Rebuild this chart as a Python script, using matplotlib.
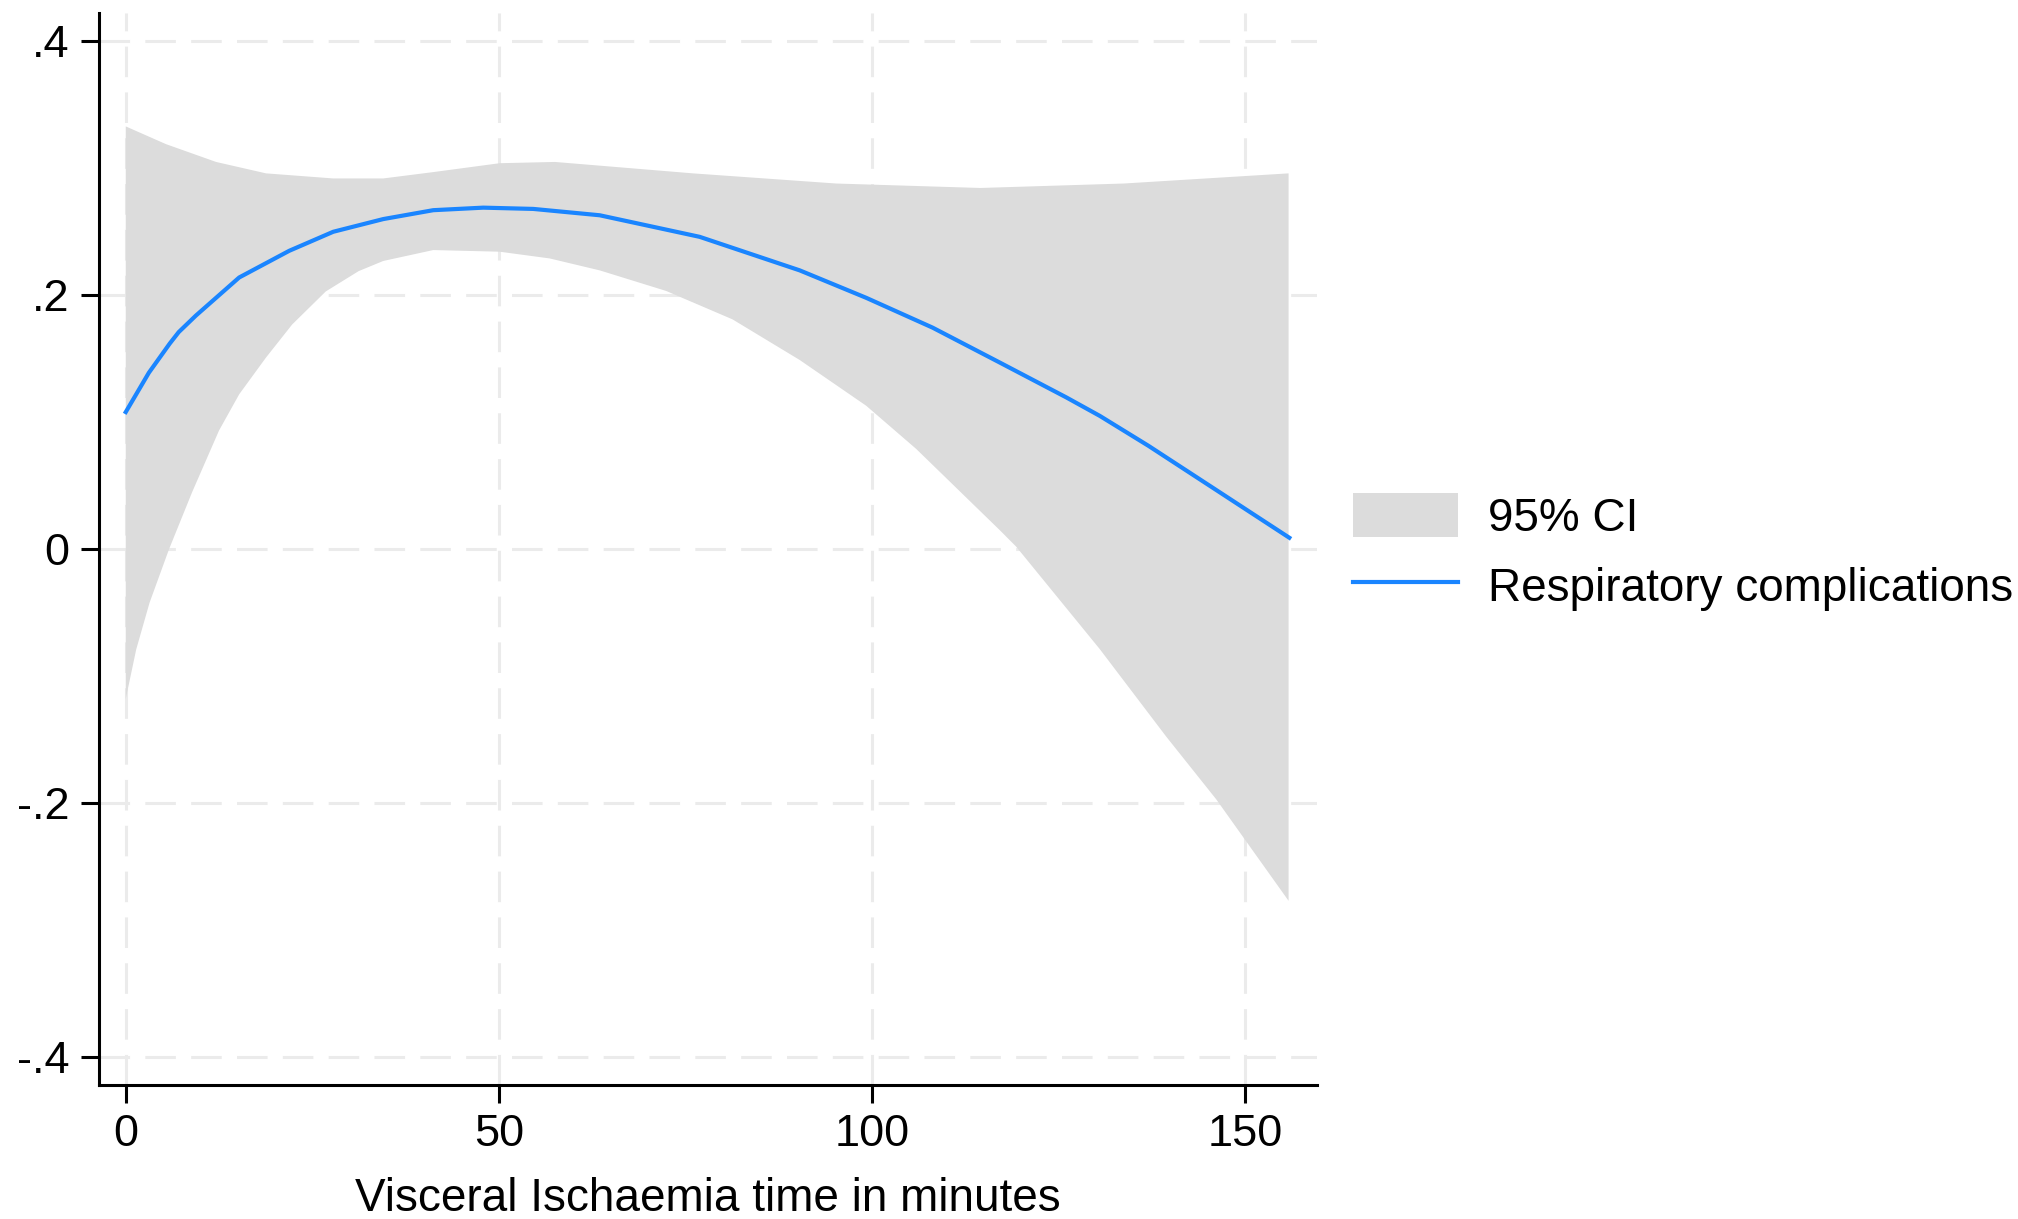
import matplotlib.pyplot as plt
import numpy as np

# values
x_fit = [0, 3.1, 5.9, 7.1, 9.4, 15.2, 21.9, 27.8, 34.5, 41.2, 47.9, 54.6, 63.5, 76.9,
         90.3, 99.2, 108.1, 117.1, 126.0, 130.5, 137.0, 146.0, 155.9]
y_fit = [0.108, 0.139, 0.162, 0.171, 0.184, 0.214, 0.235, 0.250, 0.260, 0.267, 0.269, 0.268, 0.263, 0.246,
         0.2196, 0.198, 0.1745, 0.147, 0.1196, 0.105, 0.0815, 0.047, 0.009]

x_up = [0, 5.4, 12.1, 18.8, 27.8, 34.5, 41.2, 50.1, 57.5, 76.0, 95.2, 114.5, 133.7, 155.8]
ci_upper = [0.333, 0.319, 0.305, 0.296, 0.292, 0.292, 0.297, 0.304, 0.305, 0.296, 0.288, 0.2845, 0.288, 0.296]

x_lo = [0, 1.4, 3.2, 5.8, 8.9, 12.5, 15.2, 18.8, 22.3, 26.8, 31.2, 34.5, 41.2, 50.1, 56.8, 63.5,
        72.4, 81.3, 90.3, 99.2, 105.9, 117.1, 119.3, 130.5, 139.4, 146.1, 155.8]
ci_lower = [-0.118, -0.079, -0.042, 0.000, 0.045, 0.0935, 0.122, 0.151, 0.177, 0.203, 0.219, 0.227,
            0.2356, 0.2343, 0.229, 0.2196, 0.2034, 0.181, 0.149, 0.113, 0.079, 0.015, 0.002,
            -0.0787, -0.1476, -0.197, -0.277]

xticks = [0, 50, 100, 150]
yticks = [-0.4, -0.2, 0, 0.2, 0.4]
ytick_labels = ['-.4', '-.2', '0', '.2', '.4']

plt.rcParams['font.family'] = ['Liberation Sans', 'DejaVu Sans']

fig = plt.figure(figsize=(20.18, 12.19), dpi=100)
ax = fig.add_axes([0.049, 0.110, 0.6036, 0.879])

# band polygon: upper edge left to right, lower edge right to left
band_x = x_up + x_lo[::-1]
band_y = ci_upper + ci_lower[::-1]
ax.fill(band_x, band_y, color='#dcdcdc', lw=0, label='95% CI', zorder=2)
ax.plot(x_fit, y_fit, color='#1a85ff', lw=3, label='Respiratory complications', zorder=3)

ax.set_xlim(-3.6, 159.6)
ax.set_ylim(-0.422, 0.422)
ax.set_xticks(xticks)
ax.set_yticks(yticks)
ax.set_yticklabels(ytick_labels)
ax.grid(True, color='#ebebeb', ls=(0, (10, 5)), lw=2.2, zorder=1)
ax.set_axisbelow(True)

for s in ['top', 'right']:
    ax.spines[s].set_visible(False)
for s in ['left', 'bottom']:
    ax.spines[s].set_linewidth(2.2)
ax.tick_params(direction='out', length=13, width=2.2, labelsize=32.5, pad=8)
ax.set_xlabel('Visceral Ischaemia time in minutes', fontsize=33, labelpad=16)

fig.legend(loc='center left', bbox_to_anchor=(0.659, 0.547), frameon=False,
           fontsize=33, handlelength=2.3, handleheight=1.1, handletextpad=0.65,
           labelspacing=0.5, borderpad=0)

fig.savefig('out.png', dpi=100, facecolor='white')
